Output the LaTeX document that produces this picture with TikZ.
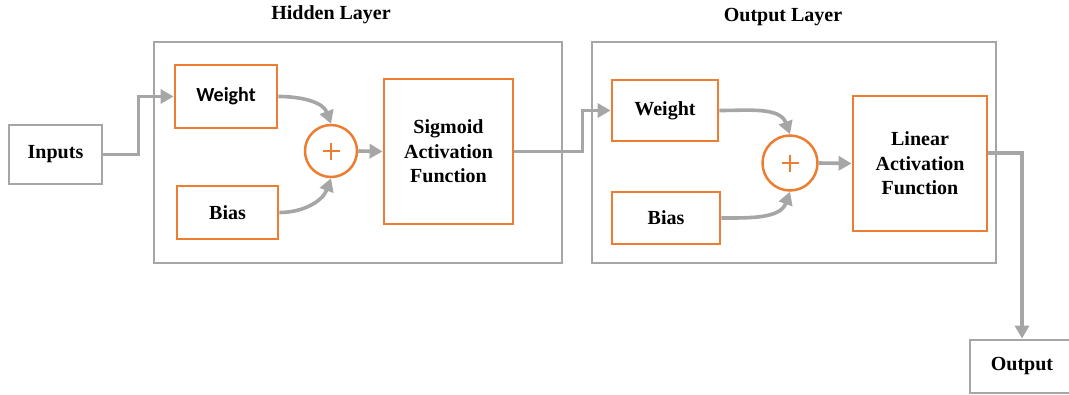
\documentclass[tikz,border=0pt]{standalone}
\usepackage{fontspec}
\setmainfont{Liberation Serif}
\newfontfamily\calibri{Carlito}
\usetikzlibrary{arrows.meta,calc}
\definecolor{lgray}{HTML}{A6A6A6}
\definecolor{orng}{HTML}{ED7D31}
\begin{document}
\begin{tikzpicture}[x=1pt,y=-1pt,
  fnt/.style={font=\fontsize{20}{24.5}\selectfont\bfseries},
  graybox/.style={draw=lgray,line width=2.8pt,fnt,align=center,inner sep=0pt},
  orbox/.style={draw=orng,line width=2.8pt,fnt,align=center,inner sep=0pt},
  sumnode/.style={circle,draw=orng,line width=2.5pt,minimum size=52pt,inner sep=0pt},
  conn/.style={draw=lgray,line width=3.6pt,-{Triangle[length=13pt,width=14pt]}},
  title/.style={fnt,inner sep=0pt}]
\useasboundingbox (0,0) rectangle (1069,394);
\clip (0,0) rectangle (1069,394);
% layer frames
\node[draw=lgray,line width=2.8pt,minimum width=408pt,minimum height=221pt,inner sep=0pt] (hl) at (358,152.5) {};
\node[draw=lgray,line width=2.8pt,minimum width=404pt,minimum height=221pt,inner sep=0pt] (ol) at (794,152.5) {};
\node[title] (hlt) at (331,15) {Hidden Layer};
\node[title] (olt) at (783,17) {Output Layer};
% nodes
\node[graybox,minimum width=93pt,minimum height=59pt] (in) at (55.5,154.5) {Inputs};
\node[orbox,minimum width=102pt,minimum height=63pt,font=\calibri\fontsize{20}{24.5}\selectfont\bfseries] (hw) at (226,96.5) {Weight};
\node[orbox,minimum width=101pt,minimum height=53pt] (hb) at (227.5,212.5) {Bias};
\node[sumnode] (hs) at (331,151) {};
\node[orbox,minimum width=129pt,minimum height=145pt] (sig) at (448.5,151.5) {Sigmoid\\Activation\\Function};
\node[orbox,minimum width=106pt,minimum height=61pt] (ow) at (665,110.5) {Weight};
\node[orbox,minimum width=108pt,minimum height=52pt] (ob) at (666,218) {Bias};
\node[sumnode,minimum size=55pt] (os) at (790,163) {};
\node[orbox,minimum width=134pt,minimum height=135pt] (lin) at (920,163.5) {Linear\\Activation\\Function};
\node[graybox,minimum width=104pt,minimum height=53pt] (out) at (1022,366.5) {Output};
% plus signs
\foreach \s in {hs,os}{
  \draw[orng,line width=1.8pt] ($(\s)+(-8.5,0)$) -- ($(\s)+(8.5,0)$);
  \draw[orng,line width=1.8pt] ($(\s)+(0,-8.5)$) -- ($(\s)+(0,8.5)$);
}
% connectors
\coordinate (b1) at ($(in.east)!.5!(hw.west)$);
\draw[conn] (in.east) -| (b1) |- (hw.west);
\draw[conn] (hw.east) to[out=0,in=110] (hs.north);
\draw[conn] (hb.east) to[out=0,in=-110] (hs.south);
\draw[conn] (hs.east) -- (sig.west);
\coordinate (b2) at ($(sig.east)+(68,0)$);
\draw[conn] (sig.east) -- (b2) |- (ow.west);
\draw[conn] (ow.east) to[out=0,in=110] (os.north);
\draw[conn] (ob.east) to[out=0,in=-110] (os.south);
\draw[conn] (os.east) -- (lin.west);
\coordinate (b3) at ($(lin.east)+(0,-10.5)$);
\draw[conn] (b3) -| (out.north);
\end{tikzpicture}
\end{document}
